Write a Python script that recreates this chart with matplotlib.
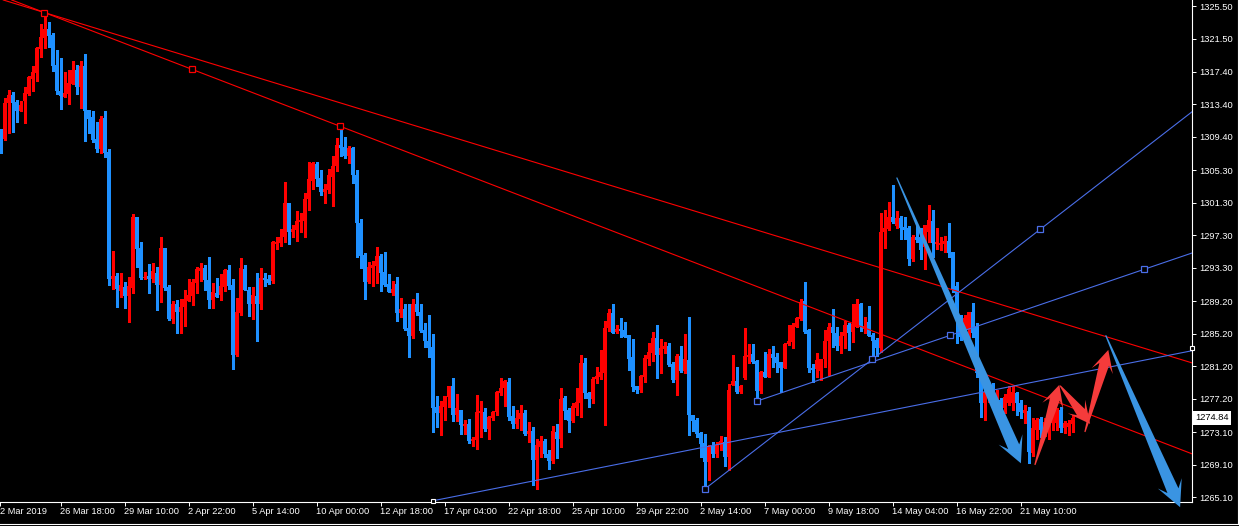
import numpy as np
import matplotlib
matplotlib.use('Agg')
import matplotlib.pyplot as plt
from matplotlib.patches import Polygon
from matplotlib.lines import Line2D
from matplotlib.transforms import IdentityTransform, blended_transform_factory

plt.rcParams['font.family'] = ['Liberation Sans', 'DejaVu Sans']

# 4H candles
opens = [1310.3, 1309.1, 1313.6, 1314.6, 1313.7, 1312.6, 1313.8, 1314.7, 1316.5, 1317.3,
         1320.2, 1321.6, 1322.7, 1321.9, 1318.2, 1315.0, 1314.3, 1314.7, 1315.9, 1317.6,
         1315.5, 1318.1, 1312.7, 1311.9, 1309.1, 1307.9, 1311.7, 1307.5, 1291.9, 1292.3,
         1290.5, 1290.9, 1289.8, 1290.8, 1299.5, 1295.7, 1292.0, 1292.3, 1291.9, 1292.7,
         1291.2, 1295.7, 1290.9, 1287.0, 1288.9, 1287.9, 1288.5, 1289.2, 1289.8, 1291.4,
         1292.9, 1293.3, 1291.8, 1289.3, 1290.2, 1289.9, 1290.9, 1293.0, 1291.2, 1282.6,
         1287.7, 1293.1, 1290.6, 1288.8, 1289.8, 1288.9, 1292.0, 1291.9, 1291.7, 1296.2,
         1296.3, 1297.1, 1301.3, 1297.7, 1297.9, 1298.9, 1299.0, 1301.8, 1304.0, 1306.1,
         1304.3, 1302.6, 1302.9, 1304.5, 1305.8, 1308.4, 1308.2, 1307.1, 1308.0, 1304.7,
         1298.8, 1294.9, 1291.6, 1293.3, 1293.5, 1294.7, 1292.8, 1291.3, 1290.2, 1291.3,
         1287.7, 1288.2, 1285.9, 1284.9, 1288.8, 1287.9, 1285.7, 1284.3, 1283.6, 1276.2,
         1275.4, 1276.2, 1277.4, 1278.8, 1275.2, 1275.8, 1273.9, 1274.1, 1272.0, 1272.1,
         1275.4, 1275.6, 1273.5, 1274.8, 1275.6, 1277.9, 1278.5, 1279.3, 1275.1, 1274.1,
         1274.7, 1275.4, 1272.9, 1273.2, 1269.7, 1271.3, 1272.0, 1270.4, 1269.5, 1273.1,
         1272.3, 1277.3, 1275.8, 1274.5, 1276.1, 1276.7, 1281.6, 1277.9, 1277.2, 1279.6,
         1279.9, 1280.4, 1285.9, 1287.7, 1285.4, 1285.8, 1285.7, 1285.0, 1282.3, 1278.8,
         1278.3, 1279.9, 1282.1, 1282.8, 1284.7, 1282.6, 1283.3, 1283.7, 1281.5, 1279.5,
         1282.5, 1280.6, 1282.0, 1275.2, 1274.6, 1273.0, 1271.7, 1269.4, 1271.4, 1270.4,
         1271.5, 1271.9, 1270.0, 1278.9, 1279.4, 1278.0, 1279.7, 1282.3, 1282.7, 1281.8,
         1278.1, 1280.5, 1279.9, 1282.7, 1282.3, 1281.7, 1281.0, 1283.9, 1284.2, 1286.0,
         1287.0, 1289.2, 1285.7, 1281.0, 1280.9, 1280.6, 1282.1, 1284.3, 1286.0, 1285.3,
         1283.7, 1284.9, 1286.3, 1285.4, 1286.0, 1288.8, 1285.8, 1286.6, 1285.0, 1284.4,
         1283.4, 1297.7, 1298.1, 1299.5, 1298.4, 1299.4, 1298.3, 1298.2, 1294.4, 1297.1,
         1297.1, 1295.9, 1297.7, 1299.1, 1296.2, 1296.1, 1296.2, 1296.6, 1295.2, 1291.1,
         1287.2, 1285.9, 1285.7, 1287.9, 1286.0, 1280.4, 1276.7, 1277.9, 1278.3, 1276.4,
         1277.0, 1276.1, 1276.7, 1276.7, 1277.9, 1276.7, 1275.4, 1275.7, 1270.5, 1273.3,
         1274.7, 1273.3, 1273.6, 1274.2, 1274.2, 1275.8, 1273.6, 1273.7, 1274.1]
highs = [1310.4, 1314.2, 1315.2, 1314.9, 1313.9, 1313.8, 1315.5, 1316.9, 1318.1, 1320.5,
         1323.3, 1324.6, 1323.5, 1322.2, 1320.1, 1319.1, 1317.4, 1317.6, 1318.7, 1318.2,
         1318.7, 1319.6, 1312.7, 1312.6, 1311.2, 1312.0, 1312.6, 1307.9, 1295.4, 1292.7,
         1292.7, 1291.6, 1292.2, 1299.9, 1299.5, 1296.5, 1292.8, 1293.8, 1293.9, 1293.4,
         1297.1, 1295.7, 1291.2, 1289.2, 1289.3, 1289.5, 1290.6, 1291.9, 1291.9, 1293.4,
         1293.9, 1293.6, 1294.6, 1291.4, 1292.0, 1292.5, 1293.2, 1293.6, 1291.9, 1289.6,
         1294.5, 1293.6, 1290.9, 1290.9, 1292.7, 1293.3, 1292.7, 1292.4, 1296.6, 1297.1,
         1298.1, 1303.8, 1301.3, 1298.6, 1300.3, 1300.0, 1302.5, 1306.3, 1306.3, 1306.3,
         1305.3, 1303.6, 1305.5, 1307.0, 1309.3, 1310.7, 1309.4, 1308.3, 1308.2, 1305.3,
         1299.3, 1295.1, 1294.0, 1294.1, 1295.9, 1295.0, 1295.2, 1292.5, 1291.7, 1292.2,
         1289.6, 1288.8, 1288.9, 1289.5, 1290.2, 1288.9, 1286.5, 1287.5, 1285.1, 1277.5,
         1276.9, 1277.5, 1278.8, 1279.8, 1277.8, 1275.8, 1274.6, 1274.7, 1272.5, 1277.6,
         1276.9, 1276.1, 1275.1, 1275.7, 1278.2, 1279.8, 1279.5, 1279.8, 1276.3, 1275.8,
         1276.4, 1275.8, 1274.3, 1273.7, 1272.3, 1272.6, 1272.3, 1270.9, 1273.8, 1274.1,
         1278.5, 1277.5, 1276.1, 1276.7, 1278.5, 1282.6, 1282.2, 1278.0, 1279.9, 1281.1,
         1283.2, 1286.8, 1288.2, 1288.8, 1286.3, 1287.1, 1286.6, 1285.0, 1284.5, 1278.8,
         1280.1, 1282.6, 1284.1, 1285.4, 1286.3, 1284.5, 1284.2, 1284.1, 1281.7, 1282.7,
         1283.7, 1285.2, 1287.2, 1275.2, 1274.8, 1273.1, 1272.9, 1271.5, 1271.9, 1271.9,
         1272.6, 1272.5, 1279.0, 1282.6, 1281.1, 1278.9, 1285.9, 1283.9, 1283.9, 1281.9,
         1280.6, 1282.9, 1283.3, 1283.7, 1282.8, 1281.7, 1284.1, 1286.3, 1286.5, 1287.3,
         1289.5, 1291.6, 1285.8, 1281.5, 1282.8, 1282.1, 1285.7, 1286.5, 1288.2, 1286.0,
         1285.4, 1286.8, 1286.5, 1288.8, 1289.5, 1289.0, 1287.3, 1288.6, 1285.3, 1284.7,
         1300.0, 1300.4, 1301.4, 1303.5, 1300.3, 1299.7, 1299.5, 1298.4, 1297.3, 1298.4,
         1298.2, 1298.6, 1301.0, 1300.4, 1298.2, 1297.1, 1297.2, 1298.8, 1295.2, 1291.6,
         1287.5, 1287.5, 1287.9, 1289.0, 1286.5, 1280.5, 1278.5, 1278.9, 1279.1, 1278.3,
         1277.3, 1277.8, 1278.8, 1278.8, 1278.0, 1277.0, 1276.4, 1276.2, 1274.8, 1274.8,
         1274.9, 1274.8, 1274.9, 1275.6, 1276.1, 1276.2, 1274.5, 1274.6, 1275.2]
lows = [1307.4, 1309.0, 1309.9, 1310.0, 1311.2, 1312.6, 1311.1, 1314.6, 1315.0, 1316.3,
        1319.2, 1320.3, 1320.5, 1317.5, 1314.7, 1312.8, 1314.3, 1313.4, 1315.9, 1314.7,
        1312.9, 1308.9, 1309.9, 1308.8, 1307.5, 1307.4, 1306.9, 1291.2, 1290.7, 1288.5,
        1289.7, 1288.4, 1286.6, 1290.2, 1293.4, 1291.9, 1291.9, 1290.2, 1291.6, 1288.1,
        1289.1, 1290.6, 1286.9, 1286.5, 1285.3, 1285.3, 1286.1, 1289.2, 1288.7, 1290.2,
        1291.7, 1290.6, 1288.4, 1288.4, 1289.7, 1289.3, 1290.4, 1290.7, 1280.9, 1282.4,
        1287.5, 1290.6, 1287.4, 1287.0, 1284.3, 1288.2, 1291.1, 1291.3, 1291.4, 1295.6,
        1296.0, 1296.5, 1296.2, 1297.1, 1296.6, 1297.7, 1297.1, 1300.4, 1303.0, 1303.4,
        1302.3, 1301.3, 1302.5, 1300.9, 1305.2, 1307.1, 1306.8, 1306.2, 1303.7, 1294.6,
        1293.3, 1289.5, 1291.4, 1291.1, 1291.4, 1290.4, 1291.1, 1290.3, 1289.9, 1286.8,
        1287.3, 1285.6, 1282.3, 1284.7, 1287.5, 1285.4, 1283.6, 1282.3, 1273.1, 1273.7,
        1272.7, 1274.6, 1276.2, 1274.5, 1274.5, 1272.9, 1272.9, 1271.7, 1271.4, 1271.0,
        1272.5, 1273.2, 1272.2, 1274.6, 1275.2, 1277.7, 1276.3, 1274.6, 1273.6, 1273.6,
        1273.3, 1272.7, 1271.9, 1266.6, 1266.1, 1270.0, 1270.0, 1268.6, 1269.3, 1269.9,
        1271.3, 1274.7, 1273.1, 1274.3, 1275.2, 1274.9, 1277.3, 1276.2, 1276.7, 1279.1,
        1279.6, 1274.0, 1285.5, 1285.3, 1285.3, 1284.8, 1284.8, 1280.7, 1278.2, 1277.9,
        1278.0, 1279.3, 1281.3, 1281.8, 1279.7, 1280.4, 1282.8, 1281.2, 1279.3, 1277.7,
        1280.5, 1280.4, 1272.7, 1273.2, 1272.5, 1270.0, 1266.2, 1267.2, 1270.0, 1270.0,
        1270.9, 1268.9, 1268.4, 1278.9, 1277.9, 1277.9, 1279.6, 1281.6, 1281.6, 1277.0,
        1277.9, 1279.9, 1279.9, 1281.1, 1280.5, 1278.0, 1281.0, 1283.8, 1283.4, 1286.0,
        1286.9, 1285.3, 1280.5, 1279.3, 1279.9, 1279.5, 1281.1, 1280.1, 1283.6, 1283.2,
        1282.8, 1283.4, 1283.2, 1284.2, 1286.0, 1285.5, 1285.3, 1284.9, 1282.6, 1282.4,
        1282.9, 1295.7, 1297.9, 1298.8, 1298.2, 1296.9, 1296.9, 1293.6, 1294.1, 1296.5,
        1294.4, 1293.2, 1296.5, 1294.6, 1295.6, 1295.5, 1295.2, 1294.6, 1290.3, 1284.1,
        1284.4, 1284.8, 1284.8, 1284.8, 1279.9, 1274.9, 1274.6, 1276.8, 1276.4, 1274.8,
        1275.8, 1275.4, 1276.4, 1275.8, 1275.2, 1274.8, 1274.2, 1269.3, 1270.2, 1272.3,
        1272.5, 1272.6, 1272.3, 1273.3, 1273.3, 1273.1, 1273.0, 1272.7, 1273.1]
closes = [1309.3, 1313.6, 1314.6, 1313.6, 1312.6, 1313.3, 1314.8, 1316.8, 1317.4, 1320.3,
          1321.7, 1322.7, 1321.8, 1318.1, 1315.0, 1314.4, 1314.8, 1316.0, 1317.6, 1315.5,
          1318.1, 1312.6, 1311.6, 1309.0, 1307.9, 1311.6, 1307.4, 1291.9, 1292.3, 1290.7,
          1291.2, 1289.8, 1291.1, 1299.5, 1295.6, 1292.0, 1292.2, 1291.9, 1292.9, 1291.2,
          1295.7, 1290.8, 1287.0, 1288.9, 1287.9, 1288.5, 1289.5, 1289.9, 1291.6, 1293.1,
          1293.3, 1291.8, 1289.3, 1290.3, 1289.7, 1291.1, 1293.0, 1291.1, 1282.6, 1287.9,
          1293.3, 1290.6, 1288.8, 1289.9, 1288.9, 1292.0, 1291.8, 1291.4, 1296.5, 1296.5,
          1297.1, 1301.3, 1297.7, 1298.1, 1299.0, 1299.2, 1301.8, 1304.2, 1306.2, 1304.2,
          1302.6, 1303.0, 1304.7, 1305.8, 1308.4, 1308.0, 1307.1, 1308.0, 1304.7, 1298.8,
          1294.7, 1291.6, 1293.4, 1293.6, 1294.7, 1292.7, 1291.2, 1290.3, 1290.7, 1287.7,
          1288.2, 1285.8, 1284.9, 1288.8, 1287.9, 1285.5, 1284.3, 1283.4, 1276.1, 1275.4,
          1276.3, 1277.5, 1278.8, 1275.2, 1276.0, 1274.0, 1274.1, 1272.0, 1272.2, 1275.6,
          1275.7, 1273.5, 1274.9, 1275.6, 1278.0, 1278.5, 1279.4, 1274.9, 1274.1, 1274.8,
          1275.4, 1272.9, 1273.2, 1269.7, 1271.5, 1272.0, 1270.4, 1269.5, 1273.2, 1272.3,
          1277.2, 1275.7, 1274.5, 1276.3, 1276.8, 1281.6, 1277.9, 1277.2, 1279.6, 1280.0,
          1280.5, 1285.9, 1287.7, 1285.3, 1285.8, 1285.5, 1284.8, 1282.1, 1278.6, 1278.3,
          1280.0, 1282.2, 1282.9, 1284.7, 1282.6, 1283.4, 1283.7, 1281.3, 1279.5, 1282.5,
          1280.6, 1282.1, 1275.2, 1274.5, 1272.9, 1271.6, 1269.4, 1271.3, 1270.4, 1271.5,
          1272.0, 1270.0, 1278.3, 1279.4, 1278.0, 1278.8, 1282.5, 1282.6, 1281.7, 1278.1,
          1280.5, 1279.9, 1282.7, 1282.2, 1281.6, 1281.0, 1283.9, 1284.3, 1286.3, 1287.1,
          1289.1, 1285.4, 1281.0, 1280.7, 1282.0, 1282.1, 1284.3, 1286.0, 1285.3, 1283.7,
          1284.9, 1286.3, 1285.3, 1286.4, 1288.8, 1286.0, 1286.1, 1284.9, 1284.3, 1283.4,
          1297.7, 1298.2, 1299.5, 1298.9, 1299.4, 1298.2, 1297.9, 1294.4, 1297.1, 1296.7,
          1295.5, 1298.6, 1299.2, 1296.3, 1296.5, 1296.3, 1296.6, 1295.1, 1290.6, 1287.2,
          1284.8, 1287.1, 1287.9, 1285.3, 1280.4, 1276.7, 1278.0, 1278.6, 1276.7, 1277.0,
          1276.1, 1277.4, 1278.4, 1278.0, 1276.7, 1275.6, 1275.8, 1270.6, 1273.6, 1274.6,
          1273.3, 1274.3, 1274.2, 1274.8, 1275.8, 1273.6, 1274.2, 1274.2, 1274.84]

x_ticks = [-0.1, 15, 31, 47, 63, 79, 95, 111, 127, 143, 159, 175, 191, 207, 223, 239, 255]
x_labels = ['2 Mar 2019', '26 Mar 18:00', '29 Mar 10:00', '2 Apr 22:00', '5 Apr 14:00',
            '10 Apr 00:00', '12 Apr 18:00', '17 Apr 04:00', '22 Apr 18:00', '25 Apr 10:00',
            '29 Apr 22:00', '2 May 14:00', '7 May 00:00', '9 May 18:00', '14 May 04:00',
            '16 May 22:00', '21 May 10:00']
price_ticks = [1325.5, 1321.5, 1317.4, 1313.4, 1309.4, 1305.3, 1301.3, 1297.3,
               1293.3, 1289.2, 1285.2, 1281.2, 1277.2, 1273.1, 1269.1, 1265.1]
price_labels = ['%.2f' % p for p in price_ticks]
last_price = 1274.84

# drawn objects, in (bar index, price)
red_lines = [((10.95, 1324.7), (297.9, 1281.6)),
             ((10.95, 1324.7), (84.95, 1310.7))]
red_marks = [(10.95, 1324.7), (47.95, 1317.7), (84.95, 1310.7)]
blue_rays = [((108.2, 1264.65), (297.9, 1283.1)),
             ((176.0, 1266.06), (259.95, 1298.04)),
             ((189.0, 1276.88), (285.95, 1293.12))]
blue_marks = [(176.0, 1266.06), (217.98, 1282.05), (259.95, 1298.04),
              (189.0, 1276.88), (237.48, 1285.0), (285.95, 1293.12)]
white_marks = [(108.2, 1264.65), (297.9, 1283.4)]
blue_arrows = [((224.05, 1304.4), (255.1, 1269.25)),
               ((276.3, 1285.0), (294.9, 1263.85))]
red_arrows = [((258.6, 1269.05), (264.7, 1278.9)),
              ((264.9, 1278.8), (272.4, 1274.1)),
              ((271.1, 1273.1), (276.95, 1283.2))]

W, H = 1239, 526
fig = plt.figure(figsize=(W / 100, H / 100), dpi=100, facecolor='black')
ax = fig.add_axes([0, 24 / H, 1192 / W, 502 / H], facecolor='black')
ax.set_xlim(-0.125, 297.875)
ax.set_ylim(1264.49, 1326.24)

o = np.array(opens); h = np.array(highs); l = np.array(lows); c = np.array(closes)
idx = np.arange(len(o))
cols = np.where(c >= o, '#ff0000', '#1e90ff')
ax.vlines(idx, l, h, colors=cols, linewidth=0.75, antialiased=False, zorder=2)
ax.bar(idx, np.maximum(np.abs(c - o), 0.1), bottom=np.minimum(o, c), width=0.62,
       color=cols, linewidth=0, antialiased=False, zorder=3)

# trend lines
for p1, p2 in red_lines:
    ax.axline(p1, p2, color='#ff0000', lw=0.8, zorder=4)
x_end = ax.get_xlim()[1]
for (x1, y1), (x2, y2) in blue_rays:
    s = (y2 - y1) / (x2 - x1)
    ax.plot([x1, x_end], [y1, y1 + s * (x_end - x1)], color='#4a6ee8', lw=0.8, zorder=4)

rx, ry = zip(*red_marks)
ax.plot(rx, ry, 's', ms=3.8, mfc='black', mec='#ff0000', mew=0.9, zorder=5, clip_on=False)
bx, by = zip(*blue_marks)
ax.plot(bx, by, 's', ms=3.8, mfc='black', mec='#4a6ee8', mew=0.9, zorder=5, clip_on=False)
wx, wy = zip(*white_marks)
ax.plot(wx, wy, 's', ms=3.2, mfc='black', mec='white', mew=0.8, zorder=5, clip_on=False)


def thick_arrow(tail, tip, color, neck_w, head_w, head_len, neck_back):
    T = ax.transData.transform(tail)
    P = ax.transData.transform(tip)
    u = (P - T) / np.hypot(*(P - T))
    n = np.array([-u[1], u[0]])
    pts = [T + n * 0.6, P - u * neck_back + n * neck_w / 2, P - u * head_len + n * head_w / 2, P,
           P - u * head_len - n * head_w / 2, P - u * neck_back - n * neck_w / 2, T - n * 0.6]
    ax.add_patch(Polygon(pts, closed=True, transform=IdentityTransform(), fc=color,
                         ec='none', zorder=6, clip_on=False))


for t, p in blue_arrows:
    thick_arrow(t, p, '#3a94e2', 12, 26, 26, 18)
for t, p in red_arrows:
    thick_arrow(t, p, '#f53b3b', 10, 22, 22, 15)

# axes / frame
for side in ['top', 'left']:
    ax.spines[side].set_visible(False)
for side in ['right', 'bottom']:
    ax.spines[side].set_color('white')
    ax.spines[side].set_linewidth(0.8)

ax.yaxis.tick_right()
ax.set_yticks(price_ticks, price_labels)
ax.set_xticks(x_ticks, x_labels)
ax.tick_params(axis='both', colors='white', labelcolor='white', labelsize=6.7,
               length=3, width=0.7)
ax.tick_params(axis='y', pad=2)
ax.tick_params(axis='x', pad=0.5)
for lab in ax.get_xticklabels():
    lab.set_ha('left')

tr = blended_transform_factory(ax.transAxes, ax.transData)
ax.text(1 + 3 / 1192, last_price, '%.2f' % last_price, transform=tr, ha='left', va='center',
        fontsize=6.7, color='black', clip_on=False,
        bbox=dict(boxstyle='square,pad=0.3', fc='white', ec='none'))

fig.add_artist(Line2D([1237.5 / W, 1237.5 / W], [1 - 524 / H, 1], color='white', lw=0.8))
fig.add_artist(Line2D([0, 1237.5 / W], [1 - 524 / H, 1 - 524 / H], color='white', lw=0.8))

fig.savefig('out.png', dpi=100, facecolor='black')
